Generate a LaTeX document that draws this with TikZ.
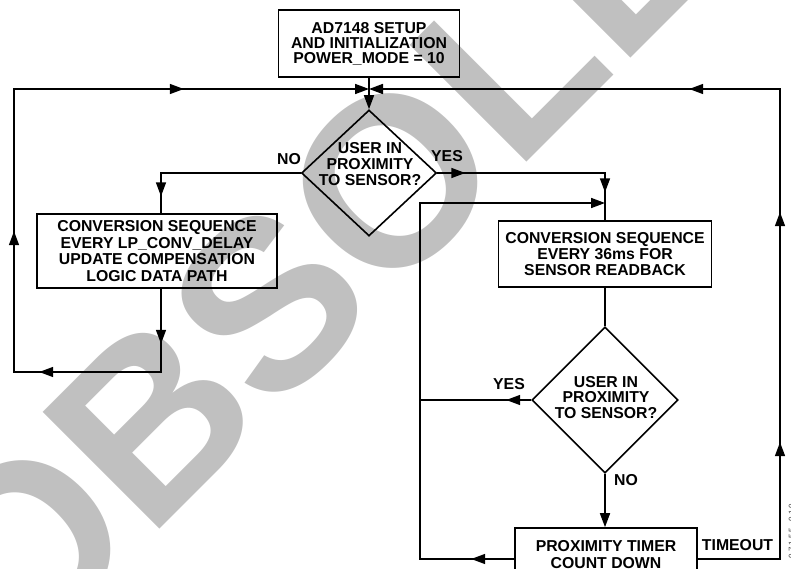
\documentclass[tikz,border=0pt]{standalone}
\usepackage{fontspec}
\setmainfont{Liberation Sans}
\usetikzlibrary{shapes.geometric,arrows.meta,decorations.markings}
\definecolor{wmgrey}{RGB}{192,192,192}
\begin{document}
\begin{tikzpicture}[x=1pt,y=-1pt,
  >={Triangle[length=14pt,width=10pt]},
  ln/.style={line width=1.6pt},
  arrowat/.style={postaction={decorate,decoration={markings,mark=at position #1 with {\arrow{>}}}}},
  box/.style={draw,line width=1.6pt,align=center,inner sep=0pt},
  dia/.style={draw,line width=1.6pt,diamond,inner sep=0pt},
  txt/.style={inner sep=0pt,align=center},
  lbl/.style={inner sep=0pt,font=\fontsize{15.8}{16}\selectfont\bfseries}
]
\useasboundingbox (0,0) rectangle (791,569);
\clip (0,0) rectangle (791,569);
% watermark
\node[inner sep=0pt,anchor=base west,rotate=45,text=wmgrey,
      font=\fontsize{240}{240}\selectfont\bfseries] (wmark) at (16,673) {OBSOLETE};
% boxes
\node[box,minimum width=181pt,minimum height=67pt,
      font=\fontsize{15.8}{15}\selectfont\bfseries] (setup) at (369,43.5)
      {AD7148 SETUP\\AND INITIALIZATION\\POWER\_MODE = 10};
\node[dia,minimum width=135pt,minimum height=126pt] (d1) at (369,173) {};
\node[txt,font=\fontsize{15.8}{16}\selectfont\bfseries] (d1t) at (370,164.5)
      {USER IN\\PROXIMITY\\TO SENSOR?};
\node[box,minimum width=240pt,minimum height=74pt,
      font=\fontsize{15.8}{16.8}\selectfont\bfseries] (box2) at (157,251)
      {CONVERSION SEQUENCE\\EVERY LP\_CONV\_DELAY\\UPDATE COMPENSATION\\LOGIC DATA PATH};
\node[box,minimum width=213pt,minimum height=66pt,
      font=\fontsize{15.8}{16.2}\selectfont\bfseries] (box3) at (605,254)
      {CONVERSION SEQUENCE\\EVERY 36ms FOR\\SENSOR READBACK};
\node[dia,minimum width=146pt,minimum height=146pt] (d2) at (605,400) {};
\node[txt,font=\fontsize{15.8}{15.5}\selectfont\bfseries] (d2t) at (606,397.5)
      {USER IN\\PROXIMITY\\TO SENSOR?};
\node[box,minimum width=182pt,minimum height=53pt,
      font=\fontsize{15.8}{17}\selectfont\bfseries] (timer) at (606,554.5)
      {PROXIMITY TIMER\\COUNT DOWN};
% labels
\node[lbl] (no1) at (289,159.5) {NO};
\node[lbl] (yes1) at (447,156) {YES};
\node[lbl] (yes2) at (509,384) {YES};
\node[lbl] (no2) at (626,480) {NO};
\node[lbl] (tout) at (737.5,545.5) {TIMEOUT};
\node[inner sep=0pt,anchor=north,rotate=90,text=black!75,
      font=\fontsize{8}{8}\selectfont] (figid) at (788.5,531) {0\kern2pt7\kern2pt1\kern2pt5\kern2pt5\kern2pt-\kern2pt0\kern2pt1\kern2pt0};
% coordinates
\coordinate (J) at (369,89);
\coordinate (nL) at (161,173);
\coordinate (bl) at (161,372);
\coordinate (BL) at (14,372);
\coordinate (TL) at (14,89);
\coordinate (tR) at (780,559);
\coordinate (TR) at (780,89);
\coordinate (yR) at (605,173);
\coordinate (lB) at (420,559);
\coordinate (lT) at (420,203);
\coordinate (lE) at (605,203);
% connectors
\draw[ln] (setup.south) -- (J);
\draw[ln,->] (J) -- (d1.north);
\draw[ln,arrowat=163pt] (d1.west) -- (nL) -- (nL |- box2.north);
\draw[ln,->,arrowat=55pt,arrowat=205pt,arrowat=371pt,arrowat=683pt]
      (bl |- box2.south) -- (bl) -- (BL) -- (TL) -- (J);
\draw[ln,->,arrowat=199pt,arrowat=429pt,arrowat=643pt]
      (timer.east |- tR) -- (tR) -- (TR) -- (J);
\draw[ln,arrowat=28pt,arrowat=187pt] (d1.east) -- (yR) -- (box3.north);
\draw[ln,->,arrowat=43pt] (timer.west |- lB) -- (lB) -- (lT) -- (lE);
\draw[ln,arrowat=25pt] (d2.west) -- (d2.west -| lB);
\draw[ln] (box3.south) -- (d2.north);
\draw[ln,->] (d2.south) -- (d2.south |- timer.north);
\end{tikzpicture}
\end{document}
